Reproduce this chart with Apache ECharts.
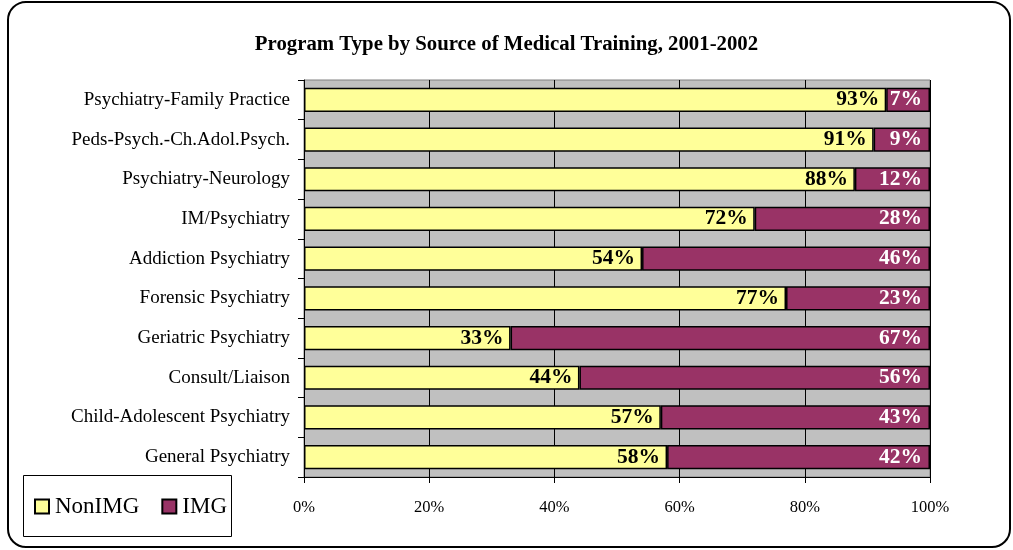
<!DOCTYPE html>
<html><head><meta charset="utf-8">
<script src="https://cdn.jsdelivr.net/npm/echarts@6/dist/echarts.min.js"></script>
<style>html,body{margin:0;padding:0;background:#fff}#c{width:1013px;height:550px}</style>
</head><body><div id="c"></div>
<script>
const categories = ["General Psychiatry","Child-Adolescent Psychiatry","Consult/Liaison","Geriatric Psychiatry","Forensic Psychiatry","Addiction Psychiatry","IM/Psychiatry","Psychiatry-Neurology","Peds-Psych.-Ch.Adol.Psych.","Psychiatry-Family Practice"];
const nonImg = [58,57,44,33,77,54,72,88,91,93];
const img = [42,43,56,67,23,46,28,12,9,7];
const xTicks = [0,20,40,60,80,100];
const F = '"Liberation Serif","Times New Roman",serif';
const chart = echarts.init(document.getElementById('c'));
chart.setOption({
  animation:false,
  title:{text:'Program Type by Source of Medical Training, 2001-2002',left:'center',top:29,
    textStyle:{fontFamily:F,fontSize:20.8,fontWeight:'bold',color:'#000'}},
  graphic:[
    {type:'rect',shape:{x:8,y:2,width:1002,height:545,r:18},
     style:{fill:'none',stroke:'#000',lineWidth:2},z:-1},
    {type:'rect',shape:{x:23.5,y:475.5,width:208,height:61},
     style:{fill:'#fff',stroke:'#000',lineWidth:1},z:-1}
  ],
  legend:{left:34,top:495,padding:[0,0,0,0],itemGap:22,
    itemWidth:14,itemHeight:14,icon:'rect',
    textStyle:{fontFamily:F,fontSize:23,color:'#000',padding:[0,0,0,1]},
    data:['NonIMG','IMG']},
  grid:{left:304,right:83,top:80,bottom:73,show:true,backgroundColor:'#c0c0c0',borderColor:'#808080',borderWidth:1},
  xAxis:{type:'value',min:0,max:100,interval:20,
    axisLine:{show:true,lineStyle:{color:'#000'}},
    axisTick:{show:true,length:6,lineStyle:{color:'#000'}},
    splitLine:{show:true,lineStyle:{color:'#000',width:1}},
    axisLabel:{fontFamily:F,fontSize:16.5,color:'#000',margin:22,
      formatter:v=>xTicks.includes(v)?v+'%':''}},
  yAxis:{type:'category',data:categories,
    axisLine:{show:true,lineStyle:{color:'#000'}},
    axisTick:{show:true,length:6,lineStyle:{color:'#000'}},
    axisLabel:{fontFamily:F,fontSize:19,color:'#000',margin:14}},
  series:[
    {name:'NonIMG',type:'bar',stack:'a',data:nonImg,barCategoryGap:'39%',
     itemStyle:{color:'#ffff99',borderColor:'#000',borderWidth:1.5},
     label:{show:true,position:'insideRight',formatter:'{c}%',fontFamily:F,fontSize:21.5,fontWeight:'bold',color:'#000',offset:[-2,0]}},
    {name:'IMG',type:'bar',stack:'a',data:img,
     itemStyle:{color:'#993366',borderColor:'#000',borderWidth:1.5},
     label:{show:true,position:'insideRight',formatter:'{c}%',fontFamily:F,fontSize:21.5,fontWeight:'bold',color:'#fff',offset:[-3,0]}}
  ]
});
</script></body></html>
